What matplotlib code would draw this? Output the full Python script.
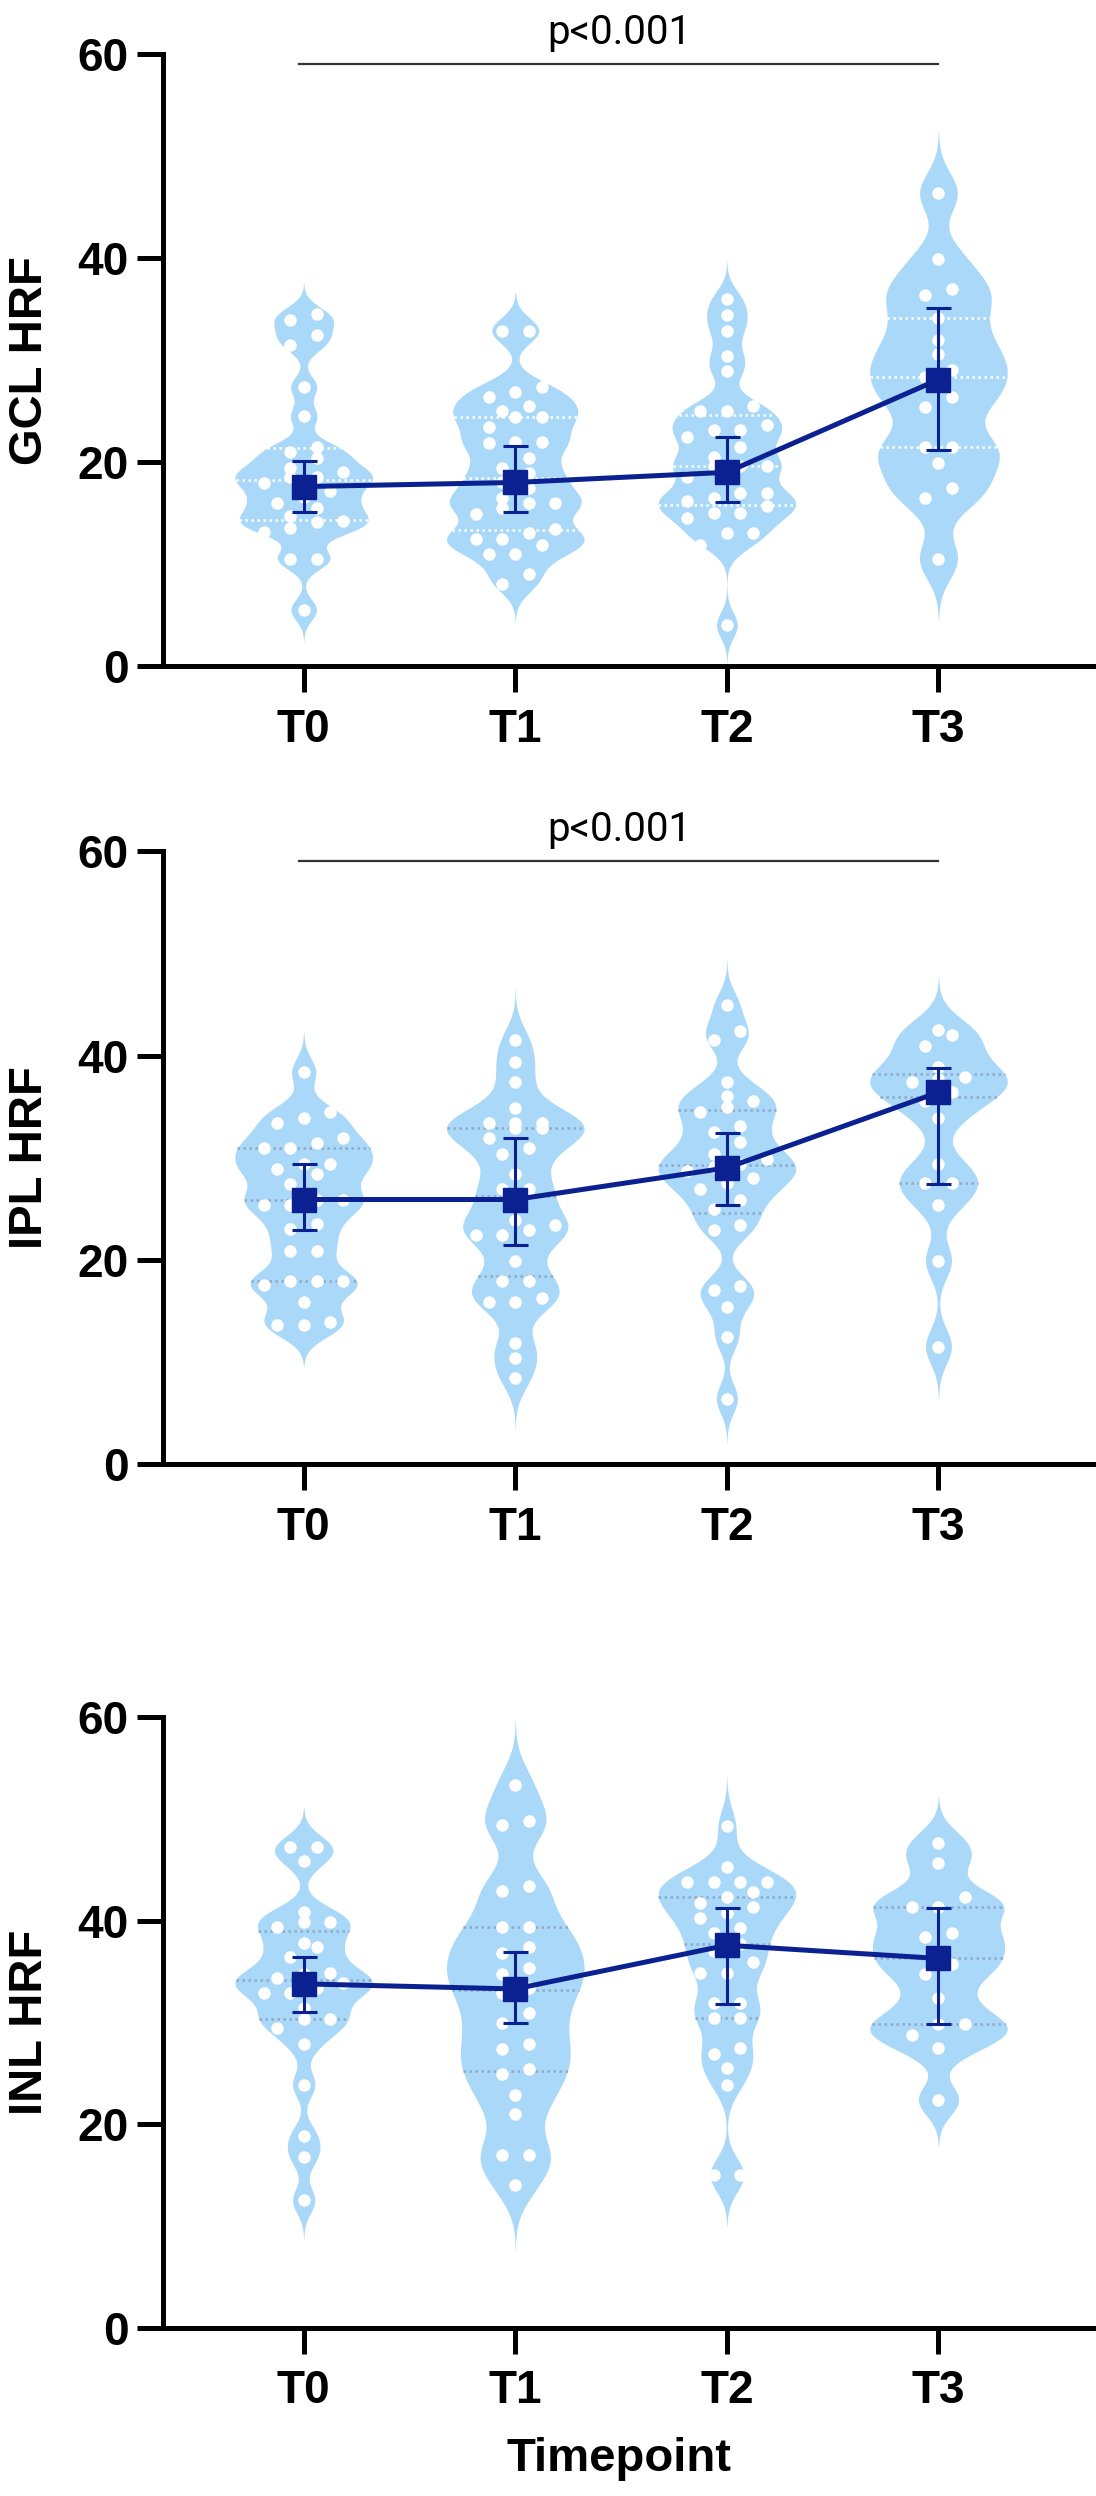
import numpy as np
import matplotlib.pyplot as plt

plt.rcParams['font.family'] = ['Liberation Sans', 'DejaVu Sans']

timepoints = ['T0', 'T1', 'T2', 'T3']

# GCL HRF
gcl_t0 = [34.5, 33.9, 32.5, 31.5, 27.4, 24.5, 21.5, 21.0, 20.4, 19.4, 19.0, 18.5, 18.5,
          17.9, 17.2, 16.6, 16.0, 15.5, 14.7, 14.2, 14.1, 13.5, 13.1, 10.5, 10.5, 5.5]
gcl_t1 = [32.9, 32.9, 27.4, 26.9, 26.4, 25.5, 25.0, 24.4, 24.4, 23.4, 22.0, 22.0, 21.9,
          20.4, 19.4, 18.9, 18.0, 17.5, 16.5, 16.0, 16.0, 15.5, 14.9, 13.4, 13.0, 12.5,
          12.5, 11.9, 11.0, 11.0, 9.0, 8.0]
gcl_t2 = [36.0, 34.4, 32.9, 30.4, 28.9, 25.5, 25.0, 25.0, 23.6, 23.1, 23.1, 22.5, 21.5,
          20.5, 19.6, 19.6, 19.6, 18.5, 17.0, 17.0, 16.5, 16.2, 15.7, 15.0, 15.0, 14.5,
          13.0, 13.0, 11.9, 4.0]
gcl_t3 = [46.4, 39.9, 37.0, 36.4, 34.1, 32.0, 30.6, 29.0, 28.3, 26.4, 25.4, 21.5, 21.5,
          19.9, 17.5, 16.5, 10.5]
gcl_center = [17.6, 18.0, 19.0, 28.1]
gcl_low = [15.1, 15.1, 16.1, 21.2]
gcl_high = [20.1, 21.6, 22.5, 35.1]

# IPL HRF
ipl_t0 = [38.4, 34.5, 33.9, 33.4, 31.9, 31.4, 30.9, 30.9, 29.4, 29.4, 28.9, 28.4, 27.4,
          25.9, 25.9, 25.4, 25.4, 23.5, 23.0, 20.9, 20.9, 17.9, 17.9, 17.9, 17.5, 15.9,
          13.9, 13.6, 13.6]
ipl_t1 = [41.5, 39.4, 37.4, 34.9, 33.4, 33.4, 33.4, 32.9, 32.9, 31.9, 30.9, 30.4, 28.4,
          26.9, 26.9, 25.5, 23.9, 23.4, 22.9, 22.4, 22.4, 19.9, 17.9, 17.9, 16.3, 15.9,
          15.9, 11.8, 10.4, 8.4]
ipl_t2 = [45.0, 42.4, 41.5, 37.4, 36.0, 35.5, 35.0, 34.5, 33.1, 32.5, 31.5, 30.4, 29.9,
          29.4, 29.1, 28.7, 28.0, 27.5, 26.9, 25.9, 25.0, 23.4, 22.9, 17.4, 17.0, 15.4,
          12.4, 6.4]
ipl_t3 = [42.5, 42.0, 40.9, 38.9, 37.9, 37.7, 37.4, 36.4, 35.5, 33.9, 29.4, 27.5, 27.5,
          25.4, 19.9, 11.5]
ipl_center = [25.9, 25.9, 29.0, 36.4]
ipl_low = [22.9, 21.4, 25.4, 27.4]
ipl_high = [29.4, 31.9, 32.4, 38.8]

# INL HRF
inl_t0 = [47.3, 47.3, 45.9, 40.9, 39.9, 39.9, 39.4, 37.8, 37.4, 36.4, 34.9, 34.8, 34.4,
          33.9, 33.4, 32.9, 32.9, 31.4, 30.3, 30.3, 29.5, 27.9, 23.9, 18.8, 16.8, 12.5]
inl_t1 = [53.4, 49.8, 49.4, 43.4, 42.9, 39.4, 39.4, 37.4, 36.8, 35.4, 34.8, 33.4, 32.9,
          30.9, 30.0, 27.9, 27.4, 25.4, 24.9, 22.9, 21.0, 17.0, 17.0, 14.0]
inl_t2 = [49.3, 45.3, 43.8, 43.8, 43.8, 43.8, 42.8, 42.3, 41.8, 41.4, 40.8, 40.3, 39.3,
          38.8, 37.7, 37.0, 36.0, 34.9, 34.9, 31.9, 31.9, 30.4, 30.4, 27.5, 26.9, 25.5,
          23.9, 15.0, 15.0]
inl_t3 = [47.7, 45.7, 42.3, 41.4, 41.4, 38.8, 38.4, 36.9, 35.8, 34.8, 32.4, 29.9, 29.9,
          28.8, 27.5, 22.4]
inl_center = [33.8, 33.3, 37.6, 36.3]
inl_low = [31.0, 30.0, 31.8, 29.9]
inl_high = [36.4, 36.9, 41.3, 41.3]

panels = [
    ('GCL HRF', [gcl_t0, gcl_t1, gcl_t2, gcl_t3], gcl_center, gcl_low, gcl_high, 'p<0.001'),
    ('IPL HRF', [ipl_t0, ipl_t1, ipl_t2, ipl_t3], ipl_center, ipl_low, ipl_high, 'p<0.001'),
    ('INL HRF', [inl_t0, inl_t1, inl_t2, inl_t3], inl_center, inl_low, inl_high, None),
]

fill_color = '#a9d8f8'
navy = '#0b2091'
quart_colors = ['white', '#8fa9c6', '#8fa9c6']
half_width = 0.325


def kde_outline(vals, npts=400):
    v = np.asarray(vals, float)
    sd = v.std(ddof=1)
    iqr = np.subtract(*np.percentile(v, [75, 25]))
    h = 0.42 * 0.9 * min(sd, iqr / 1.34) * len(v) ** -0.2
    y = np.linspace(v.min() - 3 * h, v.max() + 3 * h, npts)
    dens = np.exp(-0.5 * ((y[:, None] - v[None, :]) / h) ** 2).sum(axis=1)
    return y, dens / dens.max()


def dot_layout(vals, row_h=1.2, step=0.125):
    v = np.sort(np.asarray(vals, float))
    offs = np.zeros(len(v))
    i = 0
    while i < len(v):
        j = i
        while j + 1 < len(v) and v[j + 1] - v[i] < row_h:
            j += 1
        k = j - i + 1
        offs[i:j + 1] = (np.arange(k) - (k - 1) / 2) * step
        i = j + 1
    return v, offs


fig = plt.figure(figsize=(10.96, 24.96), dpi=100)
rects = [[0.1487, 0.7332, 0.8485, 0.2450],
         [0.1487, 0.4135, 0.8485, 0.2454],
         [0.1487, 0.0675, 0.8485, 0.2444]]

xs = np.arange(len(timepoints))
for p, (label, groups, center, low, high, ptext) in enumerate(panels):
    ax = fig.add_axes(rects[p])
    for x, vals in zip(xs, groups):
        y, d = kde_outline(vals)
        ax.fill_betweenx(y, x - d * half_width, x + d * half_width,
                         color=fill_color, lw=0, zorder=1)
        for q in np.percentile(vals, [25, 50, 75]):
            w = np.interp(q, y, d) * half_width
            ax.plot([x - w, x + w], [q, q], color=quart_colors[p], lw=1.8,
                    ls=(0, (1, 1.4)), zorder=2)
        v, offs = dot_layout(vals)
        ax.plot(x + offs, v, 'o', color='white', ms=9, mew=0, zorder=3)

    center = np.array(center)
    ax.errorbar(xs, center, yerr=[center - np.array(low), np.array(high) - center],
                fmt='none', ecolor=navy, elinewidth=2.2, capsize=9, capthick=2.2, zorder=4)
    ax.plot(xs, center, color=navy, lw=3.6, marker='s', ms=17, zorder=5)

    if ptext:
        ax.plot([-0.02, 3.0], [59.1, 59.1], color='#333333', lw=1.6, clip_on=False, zorder=6)
        ax.text(1.49, 61.0, ptext, ha='center', va='baseline', fontsize=29,
                family=['Roboto', 'DejaVu Sans'], clip_on=False)

    ax.set_xlim(-0.665, 3.73)
    ax.set_ylim(0, 60)
    ax.set_yticks([0, 20, 40, 60])
    ax.set_xticks(xs)
    ax.set_xticklabels(timepoints)
    for s in ['top', 'right']:
        ax.spines[s].set_visible(False)
    for s in ['left', 'bottom']:
        ax.spines[s].set_linewidth(3.6)
    ax.tick_params(axis='both', length=19, width=3.6, labelsize=33)
    ax.tick_params(axis='x', pad=11)
    ax.tick_params(axis='y', pad=6)
    for t in ax.get_xticklabels() + ax.get_yticklabels():
        t.set_fontweight('bold')
    ax.text(-0.143, 0.5, label, transform=ax.transAxes, rotation=90, ha='center',
            va='center', fontsize=34, fontweight='bold')

ax.text(0.49, -0.235, 'Timepoint', transform=ax.transAxes, ha='center', va='baseline',
        fontsize=34, fontweight='bold')

fig.savefig('out.png', dpi=100)
